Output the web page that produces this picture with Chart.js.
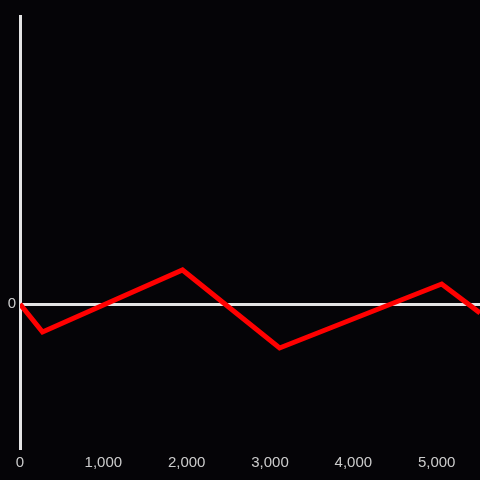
<!DOCTYPE html>
<html>
<head>
<meta charset="utf-8">
<script src="https://cdn.jsdelivr.net/npm/chart.js@4"></script>
<style>
  html, body { margin: 0; padding: 0; background: #050407; }
  canvas { display: block; }
</style>
</head>
<body>
<canvas id="chart" width="480" height="480"></canvas>
<script>
// series
const xValues = [0, 270, 1950, 3115, 5060, 5520];
const yValues = [0, -28, 34, -44, 20, -9];
const xTicks = [0, 1000, 2000, 3000, 4000, 5000];
const yTicks = [0];

const axisColor = '#e4e4e4';
const labelColor = '#cccccc';
const font = { family: 'Liberation Sans', size: 15 };

const points = xValues.map((x, i) => ({ x, y: yValues[i] }));

new Chart(document.getElementById('chart'), {
  type: 'line',
  data: {
    datasets: [{
      data: points,
      borderColor: '#ff0000',
      borderWidth: 5,
      pointRadius: 0,
      tension: 0,
      fill: false
    }]
  },
  options: {
    responsive: false,
    animation: false,
    devicePixelRatio: 1,
    layout: { padding: { top: 16, left: 0, right: 0, bottom: 0 } },
    plugins: { legend: { display: false }, tooltip: { enabled: false } },
    scales: {
      x: {
        type: 'linear',
        min: 0,
        max: 5520,
        afterBuildTicks: s => { s.ticks = xTicks.map(v => ({ value: v })); },
        afterFit: s => { s.height = 32; },
        grid: { display: false },
        border: { display: false },
        ticks: { color: labelColor, font, padding: -2, autoSkip: false, maxRotation: 0 }
      },
      y: {
        min: -144,
        max: 288,
        afterBuildTicks: s => { s.ticks = yTicks.map(v => ({ value: v })); },
        afterFit: s => { s.width = 20; },
        grid: { color: axisColor, lineWidth: 3, drawTicks: false },
        border: { display: true, color: axisColor, width: 3 },
        ticks: { color: labelColor, font, padding: 4 }
      }
    }
  }
});
</script>
</body>
</html>
